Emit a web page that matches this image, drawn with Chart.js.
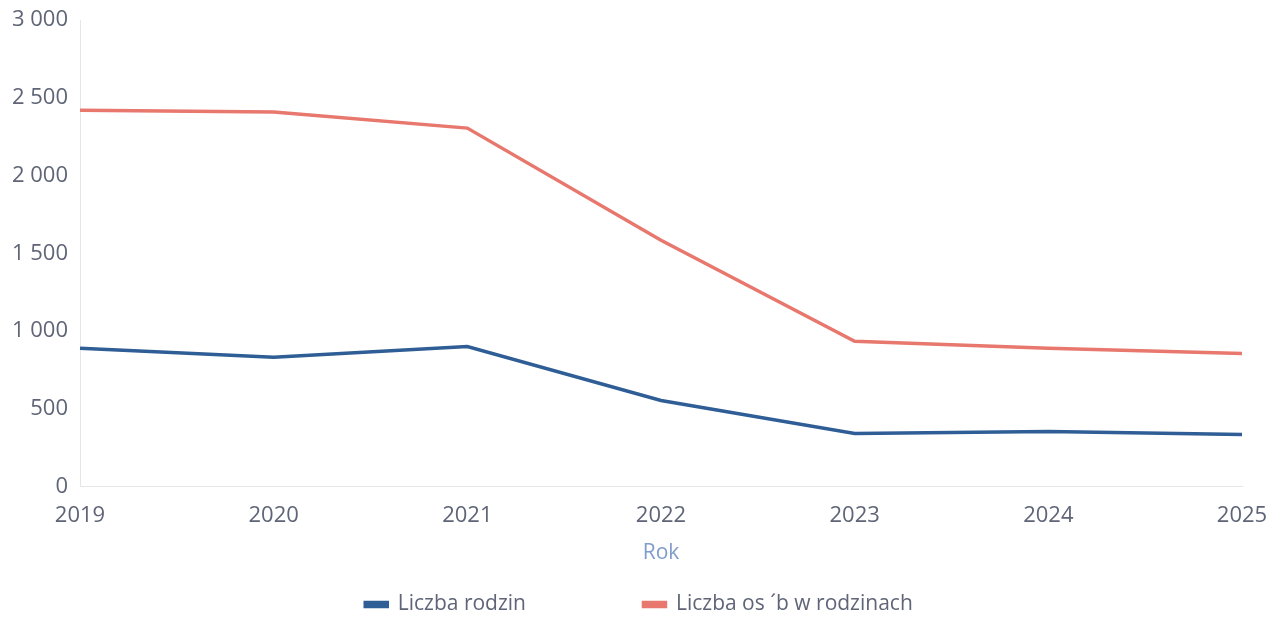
<!DOCTYPE html>
<html>
<head>
<meta charset="utf-8">
<script src="https://cdn.jsdelivr.net/npm/chart.js@4"></script>
<style>
  html, body { margin: 0; padding: 0; background: #fff; }
  #wrap { width: 1278px; height: 617px; }
</style>
</head>
<body>
<div id="wrap"><canvas id="myChart"></canvas></div>
<script>
// dane
const years = ['2019', '2020', '2021', '2022', '2023', '2024', '2025'];
const familyCount = [889, 831, 901, 554, 341, 354, 335];
const peopleCount = [2420, 2408, 2305, 1584, 934, 889, 856];
const yTicks = [0, 500, 1000, 1500, 2000, 2500, 3000];

function formatNum(v) {
    return v.toString().replace(/\B(?=(\d{3})+(?!\d))/g, ' ');
}

// przesuwa legende lekko w prawo (srodek strony zamiast srodka wykresu)
const shiftLegend = {
    id: 'shiftLegend',
    afterLayout(chart) {
        if (chart.legend) {
            chart.legend.left += 18;
            chart.legend.right += 18;
        }
    }
};

const ctx = document.getElementById('myChart').getContext('2d');
Chart.defaults.font.family = '"Open Sans", sans-serif';
Chart.defaults.color = '#5f6577';

new Chart(ctx, {
    type: 'line',
    data: {
        labels: years,
        datasets: [
            {
                label: 'Liczba rodzin',
                data: familyCount,
                borderColor: '#2f5d95',
                backgroundColor: '#2f5d95',
                borderWidth: 3.5,
                pointRadius: 0,
                tension: 0
            },
            {
                label: 'Liczba os ´b w rodzinach',
                data: peopleCount,
                borderColor: '#e8776d',
                backgroundColor: '#e8776d',
                borderWidth: 3.5,
                pointRadius: 0,
                tension: 0
            }
        ]
    },
    plugins: [shiftLegend],
    options: {
        responsive: true,
        maintainAspectRatio: false,
        animation: false,
        // ujemny dolny margines - legenda blizej dolnej krawedzi
        layout: { padding: { top: 20, right: 36, left: 0, bottom: -8 } },
        scales: {
            x: {
                afterFit: (axis) => { axis.paddingLeft = 0; axis.paddingRight = 0; },
                grid: { display: false, drawTicks: false },
                border: { display: true, color: '#e6e6e6', dash: [1, 3] },
                ticks: { font: { size: 22, lineHeight: 0.01 }, padding: 29, maxRotation: 0 },
                title: {
                    display: true,
                    text: 'Rok',
                    color: '#7f9ccb',
                    font: { size: 21 },
                    padding: { top: -4, bottom: 26 }
                }
            },
            y: {
                min: 0,
                max: 3000,
                afterFit: (axis) => { axis.width = 80; axis.paddingTop = 0; axis.paddingBottom = 0; },
                afterBuildTicks: (axis) => { axis.ticks = yTicks.map(v => ({ value: v })); },
                grid: { display: false, drawTicks: false },
                border: { display: true, color: '#e6e6e6', dash: [1, 3] },
                ticks: {
                    font: { size: 22 },
                    padding: 12,
                    callback: (v) => formatNum(v)
                }
            }
        },
        plugins: {
            legend: {
                position: 'bottom',
                labels: {
                    boxWidth: 22,
                    boxHeight: 4,
                    font: { size: 21 },
                    padding: 2,
                    generateLabels: (chart) => {
                        const items = Chart.defaults.plugins.legend.labels.generateLabels(chart);
                        // wiekszy odstep miedzy pozycjami legendy
                        items[0].text = items[0].text + '\u2003\u2003\u2003\u2003\u2003\u2002';
                        return items;
                    }
                }
            },
            tooltip: { enabled: false }
        }
    }
});
</script>
</body>
</html>
